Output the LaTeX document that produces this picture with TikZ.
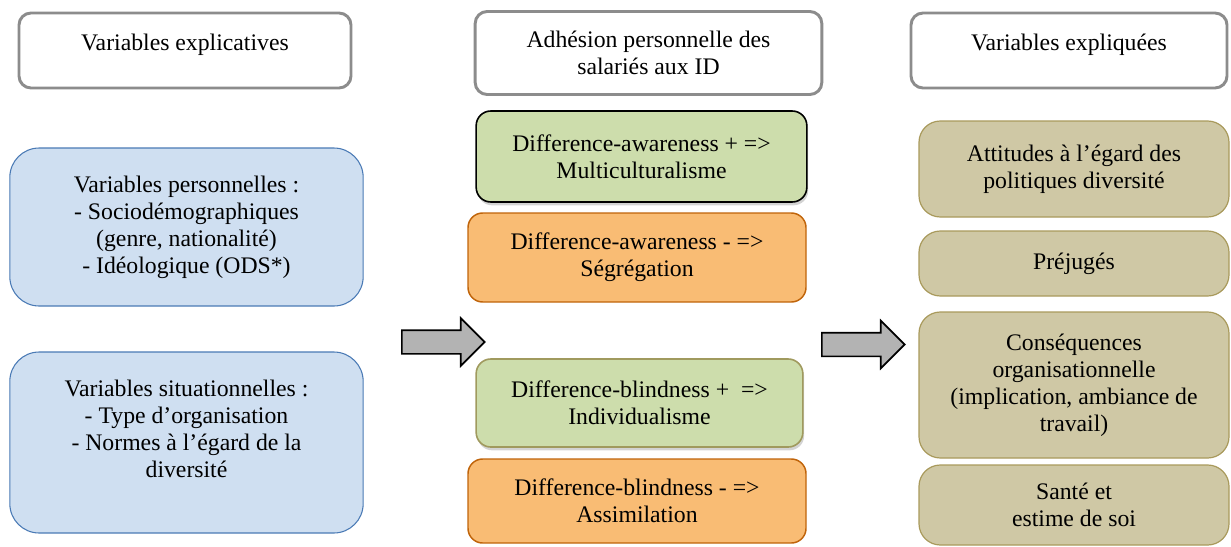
\documentclass[tikz,border=0pt]{standalone}
\usepackage{fontspec}
\setmainfont{Liberation Serif}
\usetikzlibrary{shapes.arrows,shadows}
\definecolor{headgray}{HTML}{8C8C8C}
\definecolor{persofill}{HTML}{CFDFF1}
\definecolor{persoline}{HTML}{4A7AB5}
\definecolor{greenfill}{HTML}{CDDDAC}
\definecolor{greenline}{HTML}{A09A5E}
\definecolor{orangefill}{HTML}{F9BC74}
\definecolor{orangeline}{HTML}{C0640A}
\definecolor{tanfill}{HTML}{CFC8A5}
\definecolor{tanline}{HTML}{A99A5C}
\definecolor{arrowgray}{HTML}{B3B3B3}
\newcommand{\boxfont}{\fontsize{17.8}{20.3}\selectfont}
\begin{document}
\begin{tikzpicture}[x=0.75pt,y=-0.75pt,
		head node/.style={draw=headgray,line width=2.2pt,fill=white,rounded corners=9pt,font=\boxfont},
		perso node/.style={draw=persoline,line width=0.8pt,fill=persofill,rounded corners=22pt,
			align=center,font=\boxfont,minimum width=265pt},
		green node/.style={line width=1.2pt,fill=greenfill,rounded corners=11pt,align=center,font=\boxfont,
			drop shadow={opacity=0.35,shadow xshift=1pt,shadow yshift=-2.5pt}},
		orange node/.style={draw=orangeline,line width=1.1pt,fill=orangefill,rounded corners=11pt,
			align=center,font=\boxfont,minimum width=253.5pt},
		tan node/.style={draw=tanline,line width=0.9pt,fill=tanfill,rounded corners=16pt,
			align=center,font=\boxfont,minimum width=232.5pt},
		block arrow/.style={single arrow,anchor=tail,draw=black,line width=1.3pt,fill=arrowgray,minimum height=62pt,
			inner xsep=0pt,inner ysep=8.25pt,text height=0pt,text depth=0pt,single arrow head extend=9pt}]

		\useasboundingbox (0,0) rectangle (1231,546);

		\node[head node,minimum width=249pt,minimum height=56.25pt,text height=6pt,text depth=6pt] (hexpl) at (185,50.5) {Variables explicatives};
		\node[head node,minimum width=260pt,minimum height=62.25pt,align=center] (hadh) at (648.5,53) {Adhésion personnelle des\\salariés aux ID};
		\node[head node,minimum width=237pt,minimum height=56.25pt,text height=6pt,text depth=6pt] (hexpq) at (1069,50.5) {Variables expliquées};

		\node[perso node,minimum height=118.5pt] (perso) at (186.5,227) {Variables personnelles :\\- Sociodémographiques\\(genre, nationalité)\\- Idéologique (ODS*)};
		\node[perso node,minimum height=135.75pt] (situ) at (186.5,442.5) {Variables situationnelles :\\- Type d’organisation\\- Normes à l’égard de la\\diversité\\ \mbox{}};

		\node[block arrow] (arr1) at (401,342) {};

		\node[green node,draw=black,minimum width=248pt,minimum height=68.25pt] (multi) at (641.5,156.5) {Difference-awareness + =>\\Multiculturalisme};
		\node[orange node,minimum height=66.75pt] (segr) at (637,257.5) {Difference-awareness - =>\\Ségrégation};
		\node[green node,draw=greenline,minimum width=245pt,minimum height=66pt] (indiv) at (639.5,403) {Difference-blindness +~ =>\\Individualisme};
		\node[orange node,minimum height=63pt] (assim) at (637,501) {Difference-blindness - =>\\Assimilation};

		\node[block arrow] (arr2) at (821,344.5) {};

		\node[tan node,minimum height=72pt] (attit) at (1074,169) {Attitudes à l’égard des\\politiques diversité};
		\node[tan node,minimum height=48.75pt] (prej) at (1074,263.5) {Préjugés};
		\node[tan node,minimum height=109.5pt] (conseq) at (1074,385) {Conséquences\\organisationnelle\\(implication, ambiance de\\travail)};
		\node[tan node,minimum height=60pt] (sante) at (1074,505) {Santé et\\estime de soi};
	\end{tikzpicture}
\end{document}
